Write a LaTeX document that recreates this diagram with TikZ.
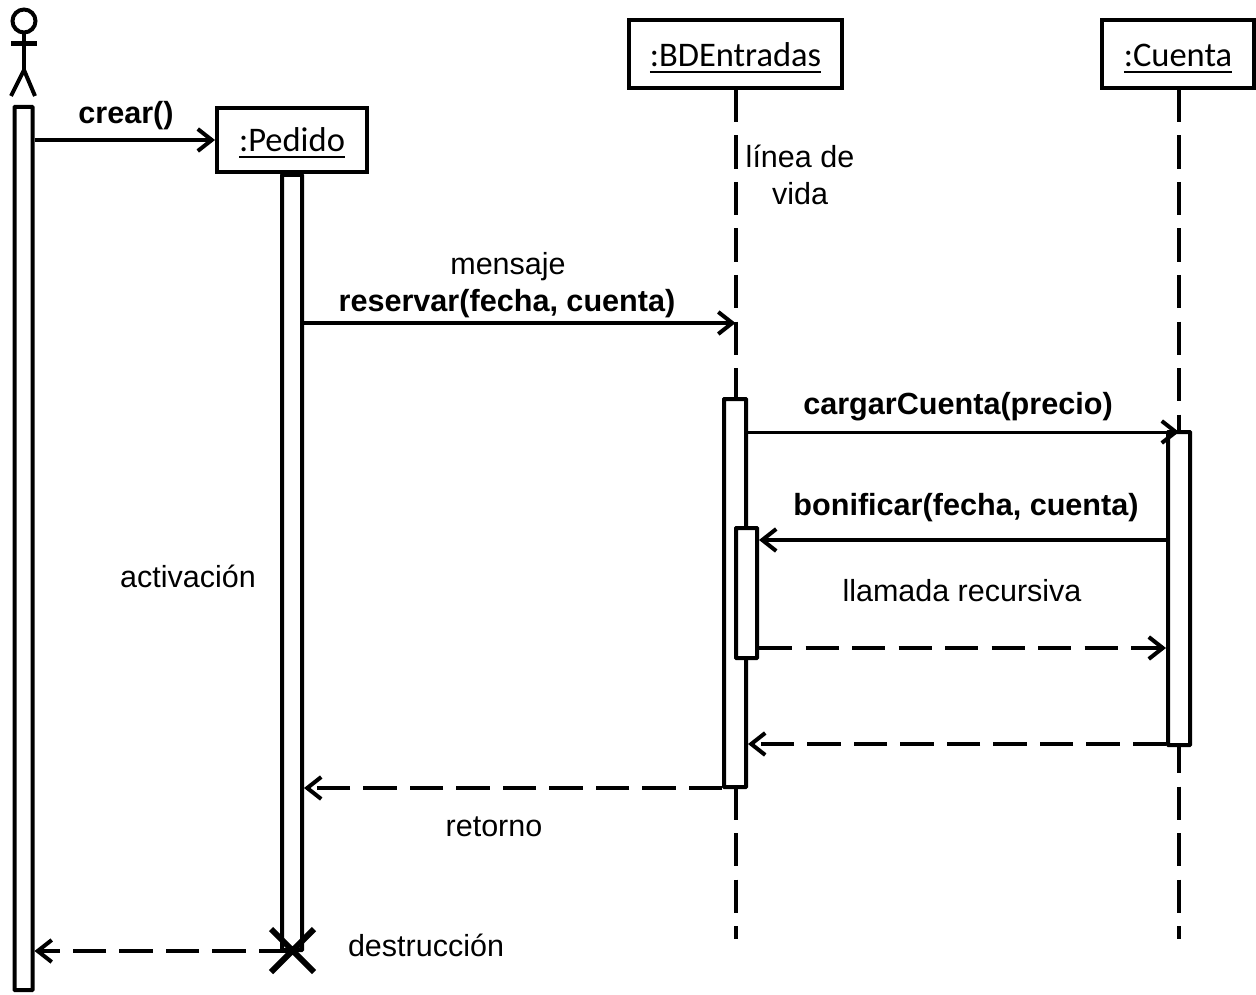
\documentclass[tikz,border=0pt]{standalone}
\usepackage{fontspec}
\setmainfont{Liberation Sans}
\newfontfamily\boxfont{Carlito}
\usetikzlibrary{arrows.meta}
\newcommand{\objname}[1]{\setbox0=\hbox{#1}\rlap{\rule[-6.3pt]{\wd0}{2.7pt}}#1}
\tikzset{
  bar/.style={draw,fill=white,line width=4pt,inner sep=0pt,rounded corners=0.5pt},
  objbox/.style={draw,fill=white,line width=4pt,inner sep=0pt,font=\boxfont\fontsize{34.5}{38}\selectfont},
  objtext/.style={inner sep=0pt,anchor=base,font=\boxfont\fontsize{34.5}{38}\selectfont},
  lbl/.style={inner sep=0pt,font=\fontsize{30.5}{37}\selectfont,align=center},
  blbl/.style={inner sep=0pt,font=\bfseries\fontsize{30.6}{37}\selectfont},
  msg/.style={line width=4pt,-{Straight Barb[length=14pt,width=22pt,line width=4pt]}},
  ret/.style={msg,dash pattern=on 33.4pt off 13.1pt},
  life/.style={line width=4pt,dash pattern=on 33.4pt off 13.1pt}
}
\begin{document}
\begin{tikzpicture}[x=1pt,y=-1pt]
\useasboundingbox (0,0) rectangle (1256,995);
% objects
\node[objbox,minimum width=213pt,minimum height=68pt] (bd) at (735.5,54) {};
\node[objtext] (bdt) at (735.5,67) {\objname{:BDEntradas}};
\node[objbox,minimum width=152pt,minimum height=68pt] (cu) at (1178,54) {};
\node[objtext] (cut) at (1178,67) {\objname{:Cuenta}};
\coordinate (bdtop) at (735.5,89);
\coordinate (cutop) at (1179,89);
\coordinate (bdend) at (735.5,939.3);
\coordinate (cuend) at (1179,939.3);
\draw[life] (bdtop) -- (bdend);
\draw[life] (cutop) -- (cuend);
% activation bars
\node[bar,minimum width=18pt,minimum height=883pt] (ba) at (23.5,548.5) {};
\node[objbox,minimum width=150pt,minimum height=64pt] (pe) at (292,140) {};
\node[objtext] (pet) at (292,152) {\objname{:Pedido}};
\node[bar,minimum width=20pt,minimum height=775pt,anchor=north] (bp) at (292,173) {};
\node[bar,minimum width=22pt,minimum height=388pt] (bb) at (735,593) {};
\node[bar,minimum width=21pt,minimum height=130pt] (bi) at (746.5,593) {};
\node[bar,minimum width=22pt,minimum height=313pt] (bc) at (1179,588.5) {};
% actor
\node[draw,circle,line width=4pt,minimum size=23pt,inner sep=0pt] (head) at (24,21) {};
\coordinate (hip) at (24,70);
\coordinate (armL) at (11,44);
\coordinate (armR) at (37,44);
\coordinate (legL) at (11,96);
\coordinate (legR) at (35,96);
\draw[line width=4pt] (head.south) -- (hip);
\draw[line width=5pt] (armL) -- (armR);
\draw[line width=4pt] (legL) -- (hip) -- (legR);
% messages
\coordinate (y1) at (0,140);
\coordinate (y2) at (0,323);
\coordinate (y3) at (0,432);
\coordinate (y4) at (0,540);
\coordinate (y5) at (0,648);
\coordinate (y6) at (0,744);
\coordinate (y7) at (0,788);
\coordinate (y8) at (0,951);
\draw[msg] (ba.east |- y1) -- (pe.west |- y1);
\draw[msg] (bp.east |- y2) -- (bdtop |- y2);
\draw[msg,line width=3pt] (bb.east |- y3) -- (cutop |- y3);
\draw[msg] (bc.west |- y4) -- (bi.east |- y4);
\draw[ret] (bi.east |- y5) -- (bc.west |- y5);
\draw[ret] (bc.west |- y6) -- (bb.east |- y6);
\draw[ret] (bb.west |- y7) -- (bp.east |- y7);
\draw[ret] (bp.center |- y8) -- (ba.east |- y8);
% destruction mark
\coordinate (xa) at (271,929);
\coordinate (xb) at (314,972);
\coordinate (xc) at (314,929);
\coordinate (xd) at (271,972);
\draw[line width=6pt] (xa) -- (xb) (xc) -- (xd);
% labels
\node[blbl] (t1) at (126,116) {crear()};
\node[lbl] (t2) at (800,174.5) {línea de\\vida};
\node[lbl] (t3) at (508,267) {mensaje};
\node[blbl] (t4) at (507,304) {reservar(fecha, cuenta)};
\node[blbl] (t5) at (958,407) {cargarCuenta(precio)};
\node[blbl] (t6) at (966,508) {bonificar(fecha, cuenta)};
\node[lbl] (t7) at (962,591) {llamada recursiva};
\node[lbl] (t8) at (188,576) {activación};
\node[lbl] (t9) at (494,827) {retorno};
\node[lbl] (t10) at (426,945.5) {destrucción};
\end{tikzpicture}
\end{document}
